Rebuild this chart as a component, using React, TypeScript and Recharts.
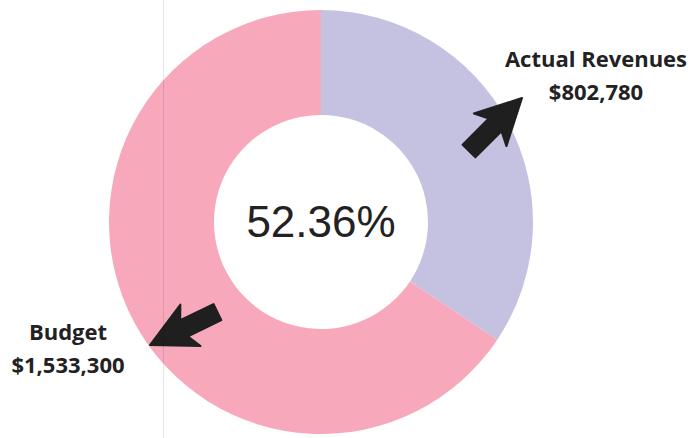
import React from 'react';
import { PieChart, Pie, Cell } from 'recharts';

const names = ['Actual Revenues', 'Budget'];
const values = [802780, 1533300];
const amounts = ['$802,780', '$1,533,300'];
const colors = ['#C5C2E1', '#F7A9BB'];
const centerText = '52.36%';

const data = names.map((name, i) => ({ name, value: values[i], amount: amounts[i] }));

// label placement relative to pie centre (arrow tip, arrow angle, text centre)
const labelPos = [
  { tip: [201, -124], rot: -45, tx: 275, ty: -155 },
  { tip: [-171, 123], rot: 154, tx: -253, ty: 118 },
];

const arrowPts = '0,0 -45,-23 -38,-9 -75,-9 -75,9 -38,9 -45,23';

function renderLabel(props: any) {
  const { cx, cy, index, payload } = props;
  const p = labelPos[index];
  const row = payload && payload.payload ? payload.payload : payload;
  return (
    <g key={`lbl-${index}`}>
      <polygon
        points={arrowPts}
        fill="#1f1f1f"
        stroke="#1f1f1f"
        strokeLinejoin="round"
        strokeWidth={2}
        transform={`translate(${cx + p.tip[0]},${cy + p.tip[1]}) rotate(${p.rot})`}
      />
      <text
        x={cx + p.tx}
        y={cy + p.ty}
        textAnchor="middle"
        fontFamily="'Open Sans', sans-serif"
        fontWeight={700}
        fontSize={22}
        fill="#222"
      >
        {row.name}
      </text>
      <text
        x={cx + p.tx}
        y={cy + p.ty + 33}
        textAnchor="middle"
        fontFamily="'Open Sans', sans-serif"
        fontWeight={700}
        fontSize={22}
        fill="#222"
      >
        {row.amount}
      </text>
    </g>
  );
}

export default function App() {
  return (
    <div style={{ position: 'fixed', left: 0, top: 0, width: 692, height: 438, background: '#fff' }}>
      <PieChart width={692} height={438} margin={{ top: 0, right: 0, bottom: 0, left: 0 }}>
        <Pie
          data={data}
          dataKey="value"
          nameKey="name"
          cx={321}
          cy={222}
          innerRadius={107}
          outerRadius={212}
          startAngle={90}
          endAngle={-270}
          stroke="none"
          label={renderLabel}
          labelLine={false}
          isAnimationActive={false}
        >
          {data.map((d, i) => (
            <Cell key={`c-${i}`} fill={colors[i]} />
          ))}
        </Pie>
        <text
          x={321}
          y={237}
          textAnchor="middle"
          fontFamily="'Liberation Sans', Arial, sans-serif"
          fontSize={44}
          fill="#222"
        >
          {centerText}
        </text>
      </PieChart>
      <div style={{ position: 'absolute', left: 163, top: 0, width: 1, height: 438, background: 'rgba(0,0,0,0.1)' }} />
    </div>
  );
}
